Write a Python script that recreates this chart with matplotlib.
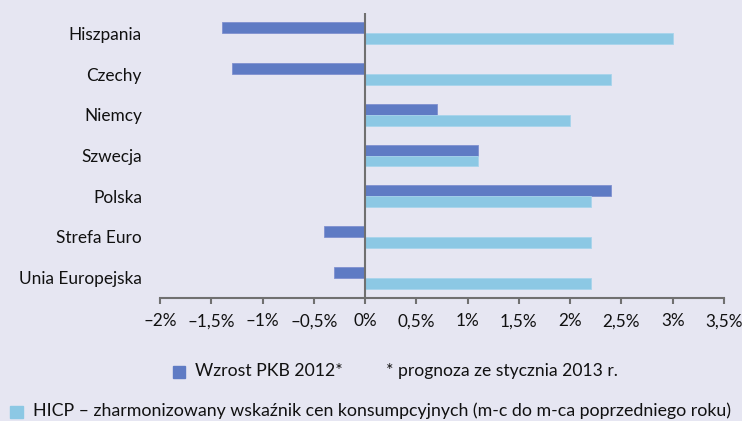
import numpy as np
import matplotlib.pyplot as plt
from matplotlib.patches import Rectangle
from matplotlib.ticker import FuncFormatter

plt.rcParams['font.family'] = ['Lato', 'DejaVu Sans']

kraje = ["Hiszpania", "Czechy", "Niemcy", "Szwecja", "Polska",
         "Strefa Euro", "Unia Europejska"]
pkb = [-1.4, -1.3, 0.7, 1.1, 2.4, -0.4, -0.3]
hicp = [3.0, 2.4, 2.0, 1.1, 2.2, 2.2, 2.2]
xticks = [-2, -1.5, -1, -0.5, 0, 0.5, 1, 1.5, 2, 2.5, 3, 3.5]

bg = "#e6e6f2"
c_pkb = "#5f7bc4"
c_hicp = "#8cc8e4"
tc = "#111111"

fig = plt.figure(figsize=(7.42, 4.21), dpi=100, facecolor=bg)
ax = fig.add_axes([160 / 742, 1 - 298 / 421, 564 / 742, 285 / 421])
ax.set_facecolor(bg)

y = np.arange(len(kraje))
h = 0.27
ax.barh(y - h / 2, pkb, height=h, color=c_pkb, edgecolor="#8090d0", linewidth=0.6)
ax.barh(y + h / 2, hicp, height=h, color=c_hicp, edgecolor="#a8d4ec", linewidth=0.6)

ax.set_ylim(len(kraje) - 0.5, -0.5)
ax.set_xlim(-2, 3.5)
ax.set_yticks(y, labels=kraje)
ax.tick_params(axis="y", length=0, pad=13, labelsize=12.4, labelcolor=tc)

def fmt(v, pos):
    s = ("%g" % v).replace(".", ",").replace("-", "\u2013")
    return s + "%"

ax.set_xticks(xticks)
ax.xaxis.set_major_formatter(FuncFormatter(fmt))
ax.tick_params(axis="x", length=4, width=1.5, color="#707070", labelsize=12.3,
               labelcolor=tc, pad=7)

for s in ["top", "right", "left"]:
    ax.spines[s].set_visible(False)
ax.spines["bottom"].set_color("#707070")
ax.spines["bottom"].set_linewidth(1.5)
ax.axvline(0, color="#707070", linewidth=1.5, zorder=3)

# legenda
fig.patches.append(Rectangle((173 / 742, 1 - 378 / 421), 12 / 742, 12 / 421,
                             transform=fig.transFigure, color=c_pkb))
fig.text(195 / 742, 1 - 371 / 421, "Wzrost PKB 2012*", fontsize=12.7,
         va="center", color=tc)
fig.text(386 / 742, 1 - 371 / 421, "* prognoza ze stycznia 2013 r.", fontsize=12.6,
         va="center", color=tc)
fig.patches.append(Rectangle((10 / 742, 1 - 418 / 421), 13 / 742, 12 / 421,
                             transform=fig.transFigure, color=c_hicp))
fig.text(33 / 742, 1 - 411 / 421,
         "HICP \u2013 zharmonizowany wska\u017anik cen konsumpcyjnych (m-c do m-ca poprzedniego roku)",
         fontsize=12.8, va="center", color=tc)

fig.savefig("out.png", dpi=100, facecolor=bg)
